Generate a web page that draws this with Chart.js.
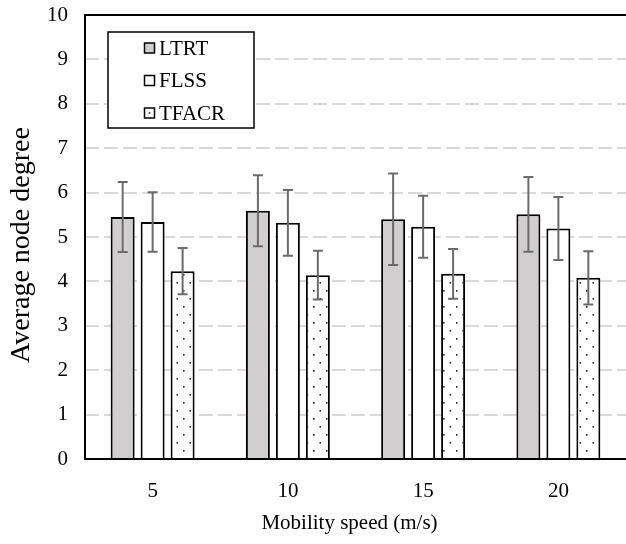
<!DOCTYPE html>
<html>
<head>
<meta charset="utf-8">
<script src="https://cdn.jsdelivr.net/npm/chart.js@4.4.1/dist/chart.umd.min.js"></script>
<style>
  html, body { margin: 0; padding: 0; background: #ffffff; }
  #wrap { width: 626px; height: 544px; }
</style>
</head>
<body>
<div id="wrap"><canvas id="chart" width="626" height="544"></canvas></div>
<script>
// Mobility speed categories (m/s)
const speeds = ['5', '10', '15', '20'];
const seriesNames = ['LTRT', 'FLSS', 'TFACR'];

// Average node degree per protocol
const ltrtValues  = [5.45, 5.59, 5.40, 5.51];
const flssValues  = [5.34, 5.32, 5.23, 5.19];
const tfacrValues = [4.23, 4.14, 4.17, 4.08];

// Error bar half-widths
const ltrtErrors  = [0.79, 0.80, 1.03, 0.84];
const flssErrors  = [0.67, 0.74, 0.70, 0.71];
const tfacrErrors = [0.52, 0.55, 0.56, 0.60];

// Y axis tick values
const yTickValues = [0, 1, 2, 3, 4, 5, 6, 7, 8, 9, 10];

// Axis titles
const xTitle = 'Mobility speed (m/s)';
const yTitle = 'Average node degree';

const FONT = "'Liberation Serif', 'Times New Roman', serif";

// Dotted fill used for the TFACR bars
function makeDotPattern() {
  const c = document.createElement('canvas');
  c.width = 13; c.height = 16;
  const g = c.getContext('2d');
  g.fillStyle = '#ffffff';
  g.fillRect(0, 0, 13, 16);
  g.fillStyle = '#222222';
  g.fillRect(7.5, 10, 1.6, 1.6);
  g.fillRect(1, 2, 1.6, 1.6);
  return g.createPattern(c, 'repeat');
}
const ctx = document.getElementById('chart').getContext('2d');
const dotPattern = makeDotPattern();

const fills = ['#d0cece', '#ffffff', dotPattern];

// Error bars drawn with the value scale
const errorBars = {
  id: 'errorBars',
  afterDatasetsDraw(chart) {
    const c = chart.ctx, y = chart.scales.y;
    chart.data.datasets.forEach((ds, i) => {
      const meta = chart.getDatasetMeta(i);
      meta.data.forEach((bar, j) => {
        const v = ds.data[j], e = ds.errors[j];
        const top = y.getPixelForValue(v + e);
        const bot = y.getPixelForValue(v - e);
        c.save();
        c.strokeStyle = '#6b6b6b';
        c.lineWidth = 2;
        c.beginPath();
        c.moveTo(bar.x, top); c.lineTo(bar.x, bot);
        c.moveTo(bar.x - 5, top); c.lineTo(bar.x + 5, top);
        c.moveTo(bar.x - 5, bot); c.lineTo(bar.x + 5, bot);
        c.stroke();
        c.restore();
      });
    });
  }
};

// Plot frame: left axis, bottom axis, top edge
const frame = {
  id: 'frame',
  afterDatasetsDraw(chart) {
    const { left, right, top, bottom } = chart.chartArea;
    const c = chart.ctx;
    c.save();
    c.strokeStyle = '#000000';
    c.lineWidth = 2;
    c.setLineDash([]);
    c.beginPath();
    c.moveTo(right + 2, top); c.lineTo(left, top); c.lineTo(left, bottom); c.lineTo(right + 2, bottom);
    c.stroke();
    c.restore();
  }
};

// Axis titles placed relative to the plot area
const axisTitles = {
  id: 'axisTitles',
  afterDraw(chart) {
    const { left, right, top, bottom } = chart.chartArea;
    const c = chart.ctx;
    c.save();
    c.fillStyle = '#000000';
    c.textAlign = 'center';
    c.textBaseline = 'middle';
    c.font = '21px ' + FONT;
    c.fillText(xTitle, (left + right) / 2 - 6, bottom + 64);
    c.translate(left - 63, (top + bottom) / 2 + 8);
    c.rotate(-Math.PI / 2);
    c.font = '28px ' + FONT;
    c.fillText(yTitle, 0, 0);
    c.restore();
  }
};

// Boxed legend inside the plot area
const boxLegend = {
  id: 'boxLegend',
  afterDraw(chart) {
    const c = chart.ctx;
    const bx = 108, by = 32, bw = 146, bh = 96;
    c.save();
    c.fillStyle = '#ffffff';
    c.fillRect(bx, by, bw, bh);
    c.strokeStyle = '#000000';
    c.lineWidth = 1.5;
    c.strokeRect(bx, by, bw, bh);
    const rows = [48, 80.5, 113];
    chart.data.datasets.forEach((ds, i) => {
      const cy = rows[i];
      const mx = 144.5, ms = 10;
      if (i === 2) {
        c.fillStyle = '#ffffff';
        c.fillRect(mx, cy - ms / 2, ms, ms);
        c.fillStyle = '#222222';
        c.fillRect(mx + ms / 2 - 0.8, cy - 0.8, 1.6, 1.6);
      } else {
        c.fillStyle = ds.backgroundColor;
        c.fillRect(mx, cy - ms / 2, ms, ms);
      }
      c.strokeStyle = '#000000';
      c.lineWidth = 1.5;
      c.strokeRect(mx, cy - ms / 2, ms, ms);
      c.fillStyle = '#000000';
      c.font = '21px ' + FONT;
      c.textBaseline = 'middle';
      c.textAlign = 'left';
      c.fillText(ds.label, 159, cy + 1);
    });
    c.restore();
  }
};

const seriesValues = [ltrtValues, flssValues, tfacrValues];
const seriesErrors = [ltrtErrors, flssErrors, tfacrErrors];

new Chart(ctx, {
  type: 'bar',
  data: {
    labels: speeds,
    datasets: seriesNames.map((name, i) => ({
      label: name,
      data: seriesValues[i],
      errors: seriesErrors[i],
      backgroundColor: fills[i],
      borderColor: '#000000',
      borderWidth: 2,
      borderSkipped: 'start',
      categoryPercentage: 0.665,
      barPercentage: 0.8
    }))
  },
  options: {
    responsive: false,
    animation: false,
    devicePixelRatio: 1,
    layout: { padding: { top: 15, right: 0, left: 0, bottom: 0 } },
    plugins: {
      legend: { display: false },
      tooltip: { enabled: false }
    },
    scales: {
      x: {
        grid: { display: false, drawTicks: false },
        border: { display: false },
        ticks: { color: '#000000', font: { family: FONT, size: 21 }, padding: 20 },
        afterFit(scale) { scale.height = 85; }
      },
      y: {
        min: 0,
        max: 10,
        afterBuildTicks(scale) { scale.ticks = yTickValues.map(v => ({ value: v })); },
        grid: {
          drawTicks: false,
          lineWidth: 2,
          color: (c) => (c.tick && (c.tick.value === 0 || c.tick.value === 10)) ? 'rgba(0,0,0,0)' : '#d9d9d9'
        },
        border: { display: false, dash: [14, 5] },
        ticks: { color: '#000000', font: { family: FONT, size: 21 }, padding: 17 },
        afterFit(scale) {
          scale.width = 85;
          scale.paddingTop = 12;
          scale.paddingBottom = 0;
        }
      }
    }
  },
  plugins: [frame, errorBars, axisTitles, boxLegend]
});
</script>
</body>
</html>
